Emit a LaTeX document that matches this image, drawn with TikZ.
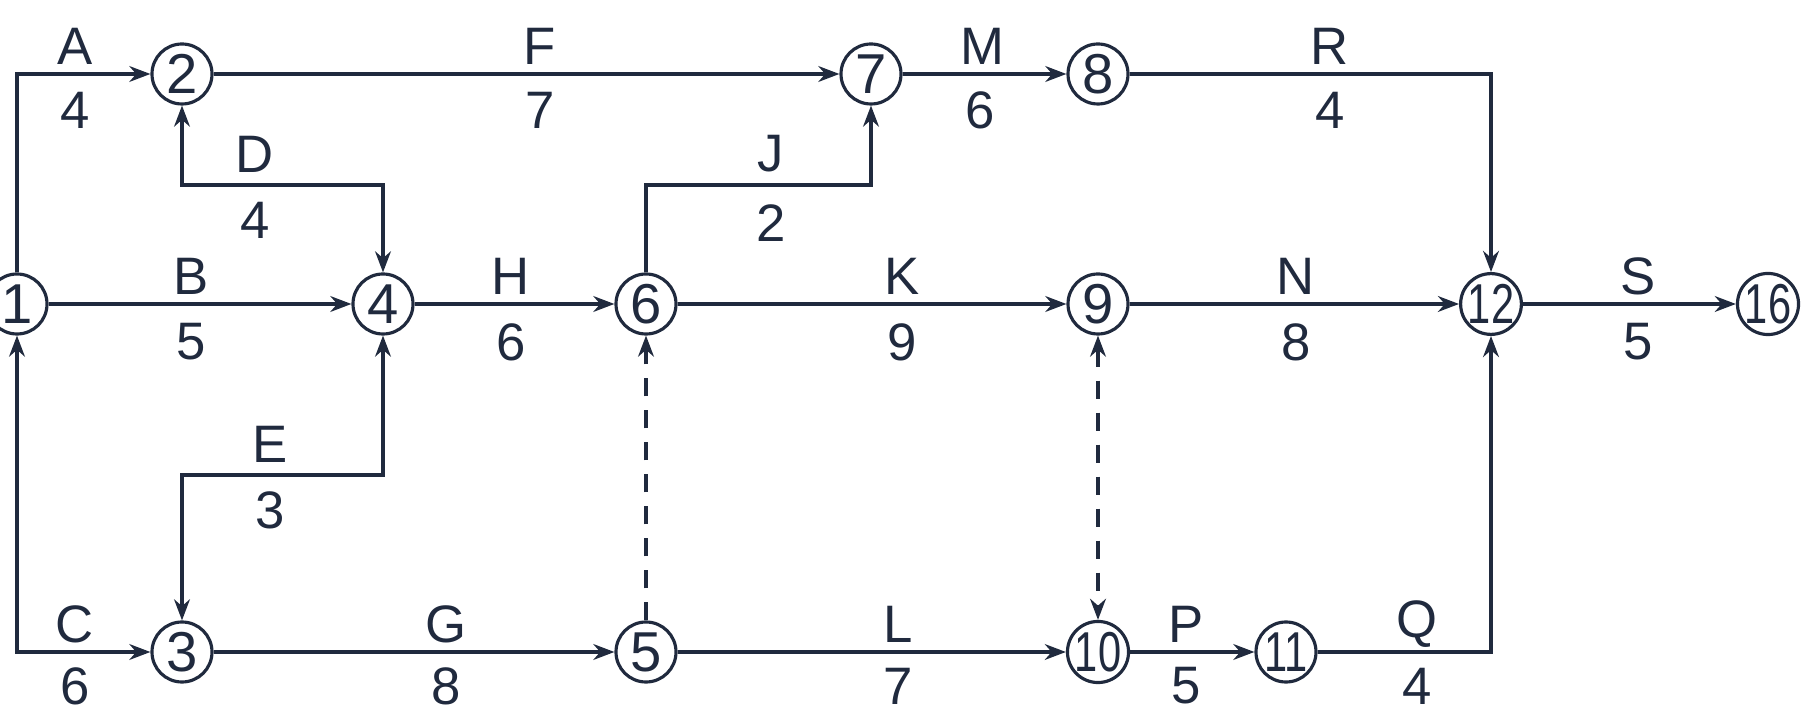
\documentclass[tikz,border=0pt]{standalone}
\usepackage{fontspec}
\setmainfont{Liberation Sans}
\usepackage{tikz}
\usepackage{graphicx}
\usetikzlibrary{arrows.meta, positioning, calc}
\usepackage{xcolor}
\definecolor{netnavy}{RGB}{32, 42, 62}
\newcommand{\twodig}[1]{\scalebox{0.74}[1]{#1}}

\begin{document}
\begin{tikzpicture}[
    >={Stealth[length=6pt, width=4.5pt]},
    event/.style={circle, draw=netnavy, line width=0.9pt, minimum size=0.6cm, inner sep=0pt,
      text=netnavy, font=\fontsize{16}{16}\selectfont},
    act/.style={draw=netnavy, line width=0.9pt},
    dummy/.style={act, dash pattern=on 0.18cm off 0.14cm},
    lbl/.style={text=netnavy, font=\fontsize{15}{15}\selectfont, inner sep=0pt}
  ]
  \useasboundingbox (0,0) rectangle (18.18,7.13);
  % events
  \node[event] (n1) at (0.17,4.09) {1};
  \node[event] (n2) at (1.82,6.39) {2};
  \node[event] (n3) at (1.82,0.61) {3};
  \node[event] (n4) at (3.83,4.09) {4};
  \node[event] (n5) at (6.46,0.61) {5};
  \node[event] (n6) at (6.46,4.09) {6};
  \node[event] (n7) at (8.71,6.39) {7};
  \node[event] (n8) at (10.98,6.39) {8};
  \node[event] (n9) at (10.98,4.09) {9};
  \node[event] (n10) at (10.98,0.61) {\twodig{10}};
  \node[event] (n11) at (12.86,0.61) {\twodig{11}};
  \node[event] (n12) at (14.91,4.09) {\twodig{12}};
  \node[event] (n16) at (17.68,4.09) {\twodig{16}};
  % top row
  \draw[act, ->] (n1) |- (n2);
  \draw[act, ->] (n2) -- (n7);
  \draw[act, ->] (n7) -- (n8);
  \draw[act, ->] (n8) -| (n12);
  % loops between rows
  \draw[act, <->] (n2) -- (n2 |- 0,5.28) -| (n4);
  \draw[act, ->] (n6) -- (n6 |- 0,5.28) -| (n7);
  \draw[act, <->] (n3) -- (n3 |- 0,2.38) -| (n4);
  % middle row
  \draw[act, ->] (n1) -- (n4);
  \draw[act, ->] (n4) -- (n6);
  \draw[act, ->] (n6) -- (n9);
  \draw[act, ->] (n9) -- (n12);
  \draw[act, ->] (n12) -- (n16);
  % bottom row
  \draw[act, <->] (n1) |- (n3);
  \draw[act, ->] (n3) -- (n5);
  \draw[act, ->] (n5) -- (n10);
  \draw[act, ->] (n10) -- (n11);
  \draw[act, ->] (n11) -| (n12);
  % dummies
  \draw[dummy, ->] (n5) -- (n6);
  \draw[dummy, <->] (n9) -- (n10);
  % activity names and durations
  \node[lbl] (lA) at (0.75,6.67) {A};
  \node[lbl] (tA) at (0.75,6.03) {4};
  \node[lbl] (lF) at (5.40,6.67) {F};
  \node[lbl] (tF) at (5.40,6.03) {7};
  \node[lbl] (lM) at (9.82,6.67) {M};
  \node[lbl] (tM) at (9.80,6.03) {6};
  \node[lbl] (lR) at (13.30,6.67) {R};
  \node[lbl] (tR) at (13.30,6.03) {4};
  \node[lbl] (lD) at (2.55,5.59) {D};
  \node[lbl] (tD) at (2.55,4.93) {4};
  \node[lbl] (lJ) at (7.71,5.59) {J};
  \node[lbl] (tJ) at (7.71,4.90) {2};
  \node[lbl] (lB) at (1.91,4.37) {B};
  \node[lbl] (tB) at (1.91,3.71) {5};
  \node[lbl] (lH) at (5.11,4.37) {H};
  \node[lbl] (tH) at (5.11,3.71) {6};
  \node[lbl] (lK) at (9.02,4.37) {K};
  \node[lbl] (tK) at (9.02,3.71) {9};
  \node[lbl] (lN) at (12.96,4.37) {N};
  \node[lbl] (tN) at (12.96,3.71) {8};
  \node[lbl] (lS) at (16.38,4.37) {S};
  \node[lbl] (tS) at (16.38,3.71) {5};
  \node[lbl] (lE) at (2.70,2.69) {E};
  \node[lbl] (tE) at (2.70,2.03) {3};
  \node[lbl] (lC) at (0.75,0.89) {C};
  \node[lbl] (tC) at (0.75,0.27) {6};
  \node[lbl] (lG) at (4.46,0.89) {G};
  \node[lbl] (tG) at (4.46,0.27) {8};
  \node[lbl] (lL) at (8.98,0.89) {L};
  \node[lbl] (tL) at (8.98,0.27) {7};
  \node[lbl] (lP) at (11.86,0.89) {P};
  \node[lbl] (tP) at (11.86,0.27) {5};
  \node[lbl] (lQ) at (14.17,0.89) {Q};
  \node[lbl] (tQ) at (14.17,0.27) {4};
\end{tikzpicture}
\end{document}
